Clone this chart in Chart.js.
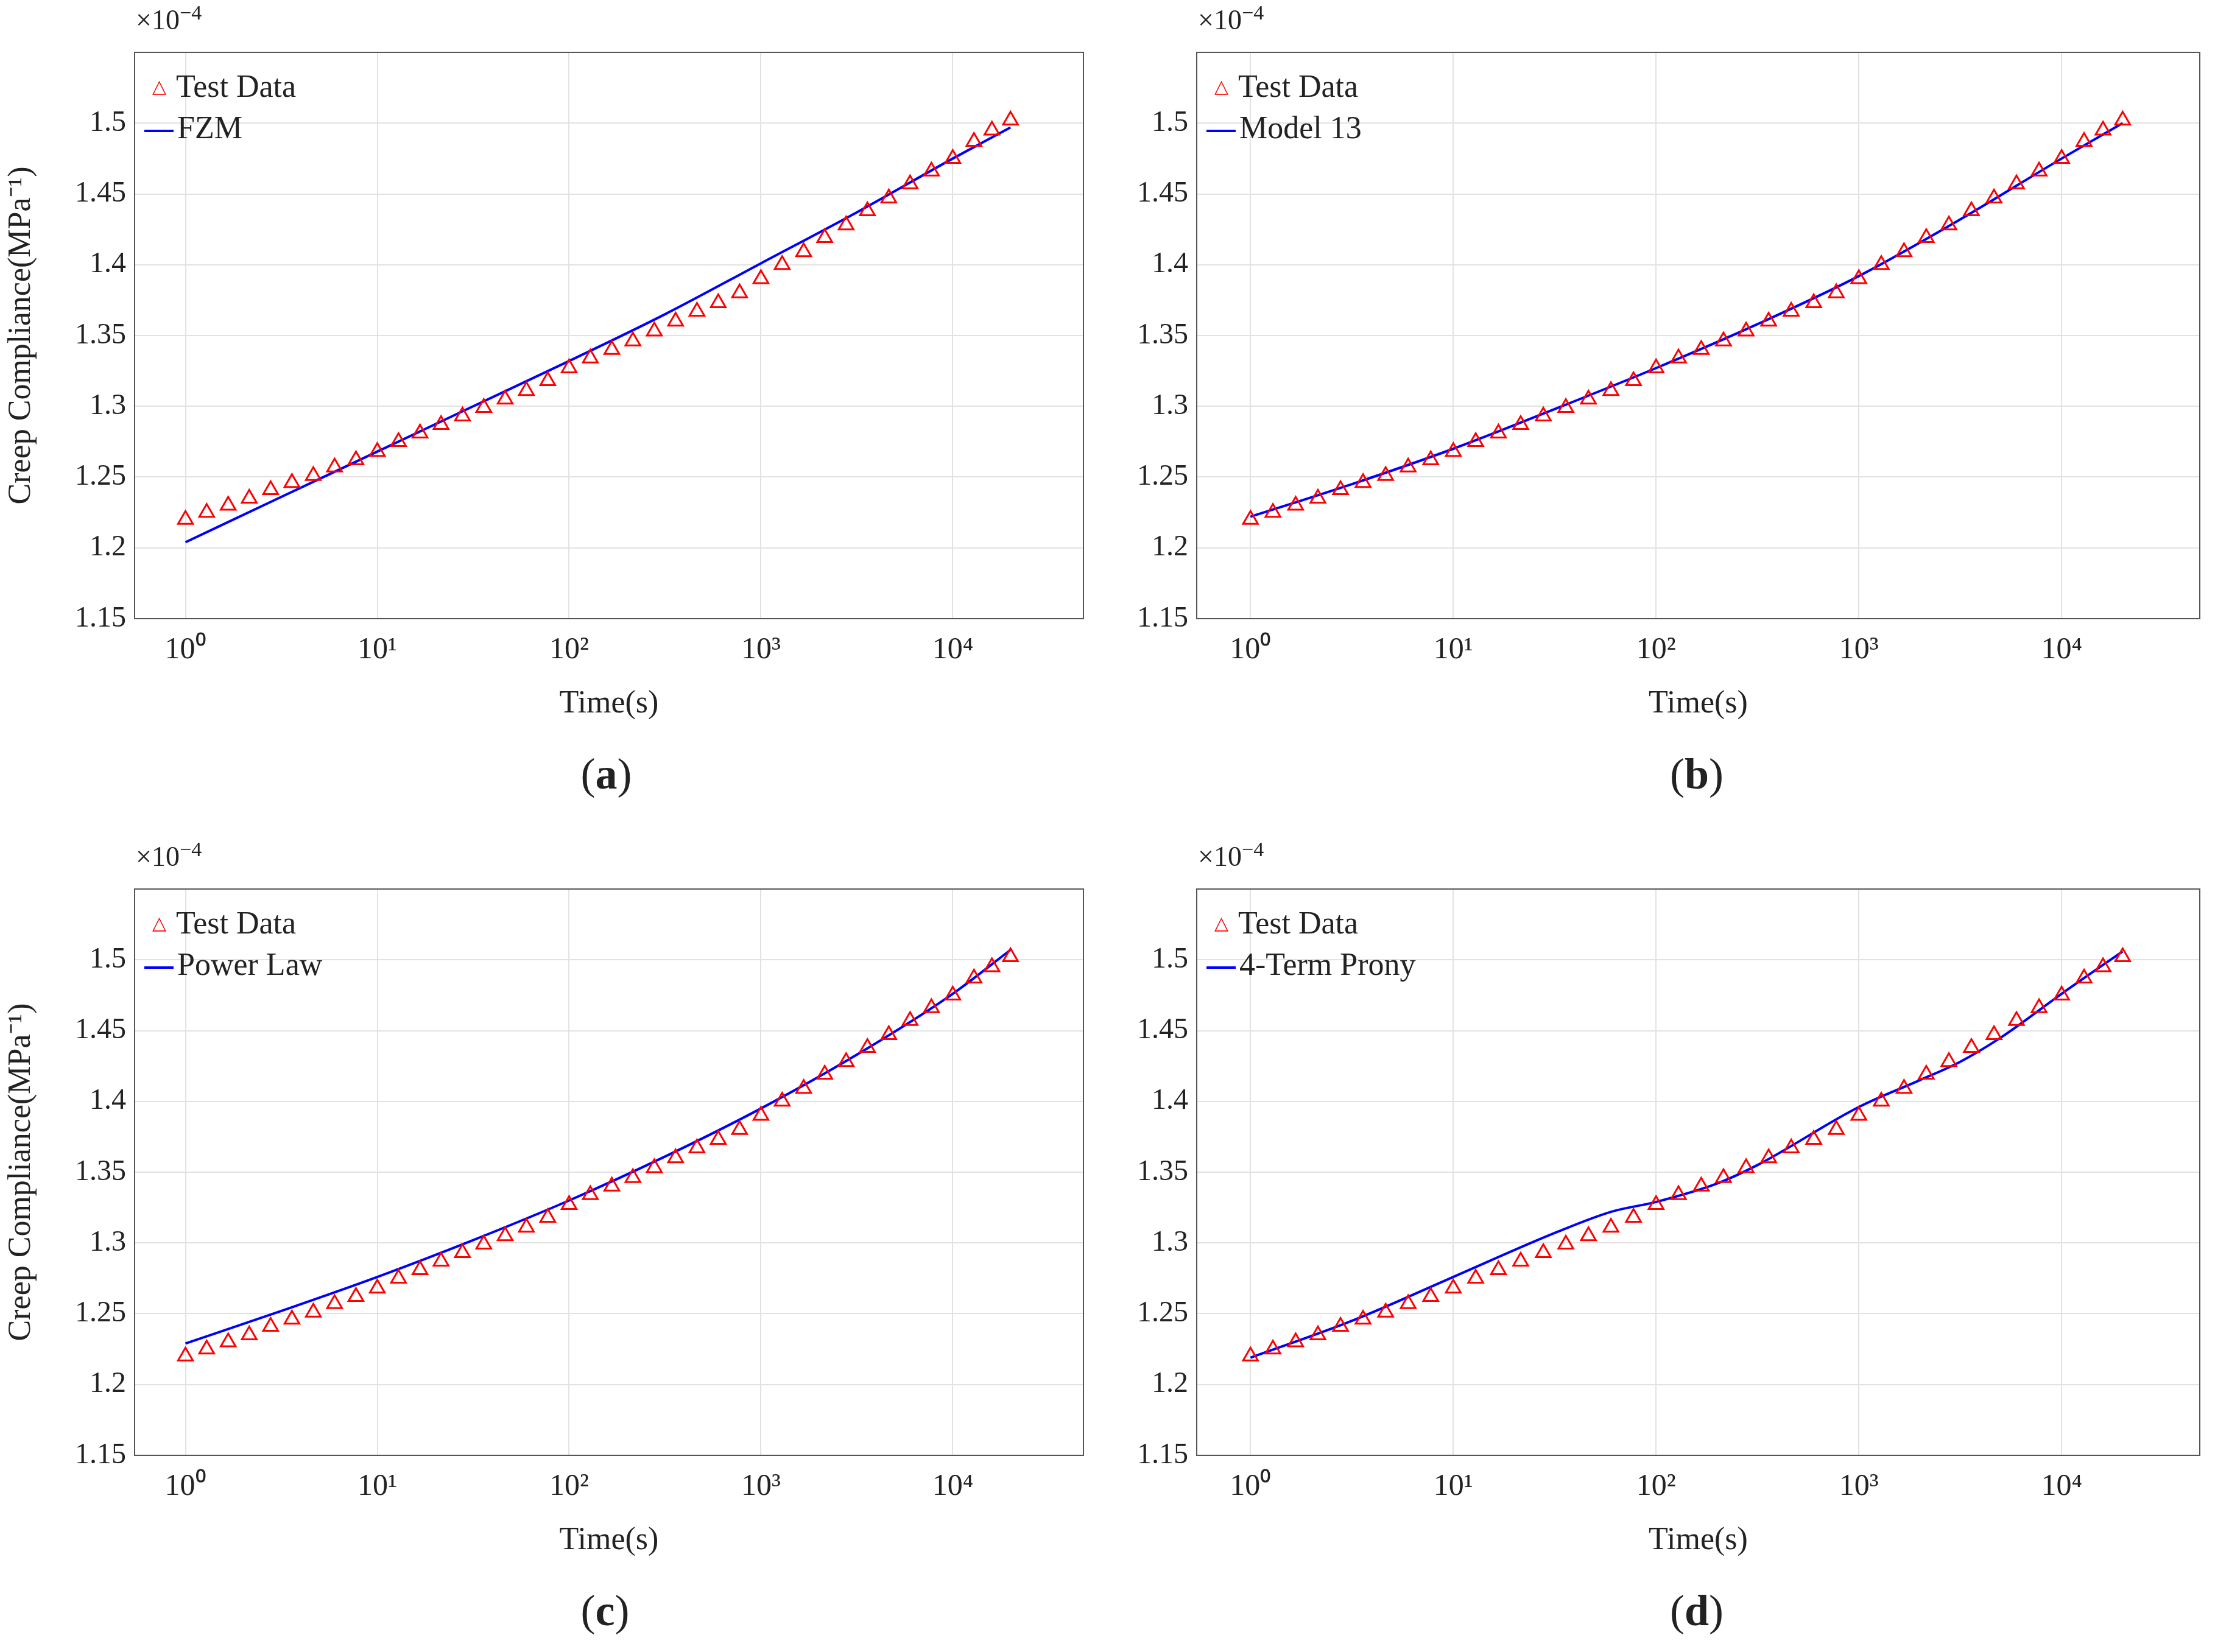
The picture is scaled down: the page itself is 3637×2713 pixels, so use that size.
<!DOCTYPE html>
<html><head><meta charset="utf-8">
<script src="https://cdn.jsdelivr.net/npm/chart.js@4"></script>
<style>
body{margin:0;background:#fff;width:3637px;height:2713px;position:relative;font-family:"Liberation Serif",serif;overflow:hidden}
canvas{position:absolute}
.t{position:absolute;color:#222;white-space:nowrap}
.lab{font-size:72px}
.exp{font-size:46px}
.leg{font-size:52px;line-height:68px}
.leg span.m{display:inline-block;width:56px;text-align:center;color:#f00;font-size:30px;vertical-align:top}
.leg span.l{display:inline-block;width:48px;height:0;border-top:4px solid #00f;vertical-align:middle;margin:0 6px 0 4px}
</style></head><body>
<script>
Chart.defaults.font.family = "'Liberation Serif', serif";
// test data, log-spaced times
const times = [1,1.29,1.67,2.15,2.78,3.59,4.64,5.99,7.74,10,12.9,16.7,21.5,27.8,35.9,46.4,59.9,77.4,100,129,167,215,278,359,464,599,774,1000,1290,1670,2150,2780,3590,4640,5990,7740,10000,12900,16000,20000];
const testY = [1.220,1.225,1.230,1.235,1.241,1.246,1.251,1.257,1.262,1.268,1.275,1.281,1.287,1.293,1.299,1.305,1.311,1.318,1.327,1.334,1.340,1.346,1.353,1.360,1.367,1.373,1.380,1.390,1.400,1.409,1.419,1.428,1.438,1.447,1.457,1.466,1.475,1.487,1.495,1.502];
const fitT = [1,3.16,10,31.6,100,316,1000,3162,10000,20000];
const fzmY = [1.204,1.236,1.268,1.300,1.332,1.365,1.401,1.437,1.475,1.497];
const m13Y = [1.222,1.245,1.270,1.298,1.327,1.358,1.392,1.432,1.475,1.500];
const powY = [1.229,1.252,1.276,1.302,1.330,1.361,1.395,1.433,1.476,1.507];
const pronyT = [1,3.16,10,31.6,60,100,200,316,1000,2000,3162,5000,10000,20000];
const pronyY = [1.219,1.245,1.276,1.307,1.322,1.329,1.342,1.355,1.396,1.415,1.428,1.445,1.476,1.506];

const panels = [
  {x:0, y:0, name:'FZM', fx:fitT, fy:fzmY, tag:'a', ylab:true},
  {x:1, y:0, name:'Model 13', fx:fitT, fy:m13Y, tag:'b', ylab:false},
  {x:0, y:1, name:'Power Law', fx:fitT, fy:powY, tag:'c', ylab:true},
  {x:1, y:1, name:'4-Term Prony', fx:pronyT, fy:pronyY, tag:'d', ylab:false},
];
const sup = {'0':'⁰','1':'¹','2':'²','3':'³','4':'⁴'};

const boxPlugin = {id:'box', afterDraw(c){const a=c.chartArea,x=c.ctx;x.save();x.strokeStyle='#555';x.lineWidth=2;x.strokeRect(a.left,a.top,a.right-a.left,a.bottom-a.top);x.restore();}};

panels.forEach(p => {
  const left = p.x ? 1965 : 221, right = p.x ? 3619 : 1786;
  const top = 86 + p.y*1374;
  const cx = left - 221, cy = top - 86;
  const cv = document.createElement('canvas');
  cv.style.left = cx+'px'; cv.style.top = cy+'px';
  cv.style.width = (right-left+221+10)+'px'; cv.style.height = '1188px';
  document.body.appendChild(cv);
  new Chart(cv, {
    type:'scatter',
    data:{datasets:[
      {data:times.map((t,i)=>({x:t,y:testY[i]})), pointStyle:'triangle', pointRadius:14, borderColor:'#f00', borderWidth:3, backgroundColor:'rgba(0,0,0,0)', showLine:false},
      {data:p.fx.map((t,i)=>({x:t,y:p.fy[i]})), showLine:true, borderColor:'#00f', borderWidth:4, pointRadius:0, cubicInterpolationMode:'monotone'}
    ]},
    options:{responsive:false, maintainAspectRatio:false, animation:false,
      layout:{padding:{top:86,right:10,left:0,bottom:0}},
      plugins:{legend:{display:false},tooltip:{enabled:false}},
      scales:{
        x:{type:'logarithmic', min:0.543, max:48000,
          afterBuildTicks(a){a.ticks=[1,10,100,1000,10000].map(v=>({value:v}));},
          afterFit(a){a.height=172;},
          ticks:{font:{size:50},color:'#222',padding:22,maxRotation:0,
            callback:v=>'10'+sup[String(Math.round(Math.log10(v)))]},
          grid:{color:'#e2e2e2',lineWidth:2,drawTicks:false},
          title:{display:true,text:'Time(s)',font:{size:52},color:'#222',padding:{top:0,bottom:0}}},
        y:{min:1.15, max:1.55,
          afterBuildTicks(a){a.ticks=[1.15,1.2,1.25,1.3,1.35,1.4,1.45,1.5,1.55].map(v=>({value:v}));},
          afterFit(a){a.width=221;},
          ticks:{font:{size:48},color:'#222',padding:14,
            callback:v=>v>1.52?'':String(+v.toFixed(2))},
          grid:{color:'#e2e2e2',lineWidth:2,drawTicks:false},
          title:{display:p.ylab,text:'Creep Compliance(MPa⁻¹)',font:{size:52},color:'#222',padding:{bottom:0}}}
      }},
    plugins:[boxPlugin]
  });
  const add=(cls,html,x,y)=>{const d=document.createElement('div');d.className='t '+cls;d.innerHTML=html;d.style.left=x+'px';d.style.top=y+'px';document.body.appendChild(d);};
  add('exp','×10<sup style="font-size:34px">−4</sup>', left+2, top-84);
  add('leg','<span class="m">△</span>Test Data<br><span class="l"></span>'+p.name, left+12, top+22);
  add('lab','(<b>'+p.tag+'</b>)', (left+right)/2-50, top+1144);
});
</script>
</body></html>
